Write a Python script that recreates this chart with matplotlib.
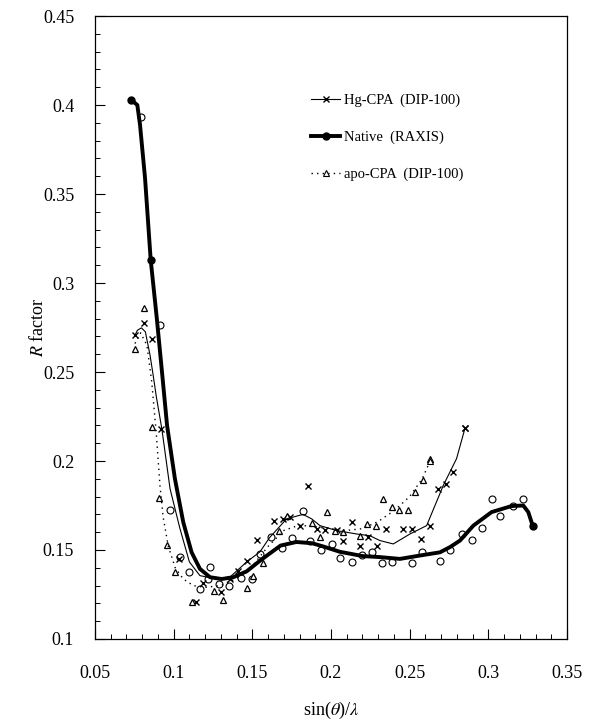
import matplotlib
matplotlib.use("Agg")
import matplotlib.pyplot as plt
from matplotlib.ticker import MultipleLocator

plt.rcParams['font.family'] = ['Liberation Serif', 'DejaVu Serif']
plt.rcParams['mathtext.fontset'] = 'stix'

# Native (RAXIS): smoothed curve and measured points
native_line_x = [0.0729, 0.0769, 0.0786, 0.0818, 0.0854, 0.0893, 0.0928, 0.0958, 0.1008,
                 0.1061, 0.1114, 0.1167, 0.1231, 0.1305, 0.1379, 0.1464, 0.1549, 0.1610,
                 0.1680, 0.1780, 0.1880, 0.1950, 0.2056, 0.2200, 0.2311, 0.2438, 0.2566,
                 0.2693, 0.2756, 0.2820, 0.2905, 0.3021, 0.3148, 0.3222, 0.3254, 0.3282]
native_line_y = [0.403, 0.400, 0.389, 0.359, 0.313, 0.280, 0.248, 0.220, 0.190,
                 0.1656, 0.1487, 0.1394, 0.1347, 0.1337, 0.1347, 0.1380, 0.1440, 0.1480,
                 0.1525, 0.1545, 0.1538, 0.1520, 0.1490, 0.1466, 0.1460, 0.1450, 0.1469,
                 0.1487, 0.1516, 0.1553, 0.1637, 0.1713, 0.1747, 0.1750, 0.1713, 0.1637]
native_pts_x = [0.0790, 0.0913, 0.0977, 0.1040, 0.1097, 0.1165, 0.1231, 0.1220, 0.1290,
                0.1354, 0.1426, 0.1496, 0.1549, 0.1617, 0.1687, 0.1750, 0.1825, 0.1867,
                0.1934, 0.2004, 0.2057, 0.2132, 0.2195, 0.2258, 0.2322, 0.2386, 0.2513,
                0.2576, 0.2693, 0.2756, 0.2831, 0.2894, 0.2958, 0.3021, 0.3074, 0.3155, 0.3218]
native_pts_y = [0.3935, 0.2763, 0.1725, 0.1460, 0.1378, 0.1283, 0.1403, 0.1337, 0.1309,
                0.1300, 0.1341, 0.1337, 0.1478, 0.1572, 0.1513, 0.1565, 0.1719, 0.1548,
                0.1502, 0.1532, 0.1455, 0.1435, 0.1472, 0.1487, 0.1427, 0.1431, 0.1427,
                0.1487, 0.1440, 0.1500, 0.1590, 0.1558, 0.1623, 0.1784, 0.1690, 0.1750, 0.1784]

# Hg-CPA (DIP-100)
hg_line_x = [0.0754, 0.0770, 0.0795, 0.0820, 0.0850, 0.0870, 0.0890, 0.0925, 0.0977,
             0.1040, 0.1100, 0.1167, 0.1273, 0.1358, 0.1464, 0.1549, 0.1610, 0.1718,
             0.1822, 0.1877, 0.1930, 0.2036, 0.2163, 0.2248, 0.2311, 0.2396, 0.2502,
             0.2608, 0.2714, 0.2798, 0.2852]
hg_line_y = [0.2707, 0.2735, 0.2748, 0.2726, 0.2594, 0.2480, 0.2360, 0.2180, 0.1844,
             0.1620, 0.1433, 0.1356, 0.1337, 0.1348, 0.1433, 0.1490, 0.1570, 0.1675,
             0.1700, 0.1675, 0.1637, 0.1609, 0.1590, 0.1580, 0.1553, 0.1534, 0.1590,
             0.1637, 0.1863, 0.2013, 0.2185]
hg_pts_x = [0.0754, 0.0811, 0.0864, 0.0922, 0.1036, 0.1142, 0.1184, 0.1299, 0.1358,
            0.1411, 0.1464, 0.1528, 0.1640, 0.1693, 0.1740, 0.1803, 0.1856, 0.1909,
            0.1962, 0.2036, 0.2078, 0.2132, 0.2184, 0.2237, 0.2294, 0.2350, 0.2460,
            0.2512, 0.2570, 0.2629, 0.2682, 0.2731, 0.2778, 0.2852]
hg_pts_y = [0.2707, 0.2776, 0.2688, 0.2182, 0.1450, 0.1206, 0.1315, 0.1266, 0.1337,
            0.1380, 0.1440, 0.1558, 0.1665, 0.1675, 0.1684, 0.1637, 0.1860, 0.1619,
            0.1610, 0.1612, 0.1553, 0.1656, 0.1525, 0.1572, 0.1525, 0.1619, 0.1619,
            0.1619, 0.1560, 0.1637, 0.1840, 0.1872, 0.1938, 0.2185]

# apo-CPA (DIP-100)
apo_line_x = [0.0754, 0.0790, 0.0830, 0.0860, 0.0890, 0.0913, 0.0934, 0.0966, 0.1010,
              0.1061, 0.1125, 0.1200, 0.1300, 0.1400, 0.1500, 0.1600, 0.1700, 0.1800,
              0.1900, 0.2000, 0.2100, 0.2200, 0.2300, 0.2400, 0.2500, 0.2580, 0.2630]
apo_line_y = [0.266, 0.272, 0.265, 0.245, 0.215, 0.186, 0.168, 0.152, 0.140,
              0.1337, 0.130, 0.129, 0.130, 0.134, 0.141, 0.152, 0.161, 0.164,
              0.163, 0.162, 0.161, 0.162, 0.166, 0.172, 0.180, 0.190, 0.200]
apo_pts_x = [0.0754, 0.0811, 0.0860, 0.0909, 0.0960, 0.1008, 0.1116, 0.1256, 0.1316,
             0.1469, 0.1507, 0.1566, 0.1672, 0.1718, 0.1877, 0.1930, 0.1977, 0.2025,
             0.2078, 0.2184, 0.2226, 0.2287, 0.2333, 0.2386, 0.2434, 0.2491, 0.2534,
             0.2583, 0.2629]
apo_pts_y = [0.2632, 0.2862, 0.2191, 0.1791, 0.1529, 0.1375, 0.1206, 0.1272, 0.1221,
             0.1285, 0.1353, 0.1426, 0.1606, 0.1690, 0.1652, 0.1575, 0.1713, 0.1609,
             0.1603, 0.1580, 0.1647, 0.1634, 0.1788, 0.1741, 0.1727, 0.1727, 0.1825,
             0.1891, 0.2013]

fig = plt.figure(figsize=(5.96, 7.23), dpi=100)
ax = fig.add_axes([0.1594, 0.1162, 0.7919, 0.8616])

# raw points
ax.plot(native_pts_x, native_pts_y, linestyle='none', marker='o', ms=5,
        mfc='white', mec='black', mew=0.8)
ax.plot(hg_pts_x, hg_pts_y, linestyle='none', marker='x', ms=4.5,
        color='black', mew=1.0)
ax.plot(apo_pts_x, apo_pts_y, linestyle='none', marker='^', ms=4.5,
        mfc='white', mec='black', mew=0.9)

# smoothed curves
ax.plot(hg_line_x, hg_line_y, color='black', lw=0.8, marker='x', ms=4.5,
        mew=1.0, markevery=[len(hg_line_x) - 1], label='Hg-CPA  (DIP-100)')
ax.plot(native_line_x, native_line_y, color='black', lw=2.8, marker='o', ms=5,
        markevery=[0, 4, len(native_line_x) - 1], label='Native  (RAXIS)')
ax.plot(apo_line_x, apo_line_y, color='black', lw=1.0, linestyle=(0, (1, 3)),
        marker='^', ms=4, mfc='white', mec='black', mew=0.8,
        markevery=[len(apo_line_x) - 1], label='apo-CPA  (DIP-100)')

ax.set_xlim(0.05, 0.35)
ax.set_ylim(0.1, 0.45)
ax.xaxis.set_major_locator(MultipleLocator(0.05))
ax.xaxis.set_minor_locator(MultipleLocator(0.01))
ax.yaxis.set_major_locator(MultipleLocator(0.05))
ax.yaxis.set_minor_locator(MultipleLocator(0.01))
ax.xaxis.set_major_formatter(plt.FuncFormatter(lambda v, p: f"{v:g}"))
ax.yaxis.set_major_formatter(plt.FuncFormatter(lambda v, p: f"{v:g}"))

ax.tick_params(which='major', direction='in', length=7, width=0.8, labelsize=13)
ax.tick_params(which='minor', direction='in', length=3.5, width=0.7)
ax.tick_params(axis='x', which='major', pad=19)
ax.tick_params(axis='y', which='major', pad=15)
for s in ax.spines.values():
    s.set_linewidth(0.9)

ax.set_ylabel(r'$R$ factor', fontsize=13)
ax.yaxis.set_label_coords(-0.102, 0.5)
ax.set_xlabel(r'sin($\theta$)/$\lambda$', fontsize=13)
ax.xaxis.set_label_coords(0.5, -0.098)

ax.legend(loc='upper left', bbox_to_anchor=(0.43, 0.896), frameon=False,
          fontsize=10.5, handlelength=2.0, handletextpad=0.25, labelspacing=1.6,
          numpoints=1, markerscale=1.0)

fig.savefig('out.png', dpi=100)
